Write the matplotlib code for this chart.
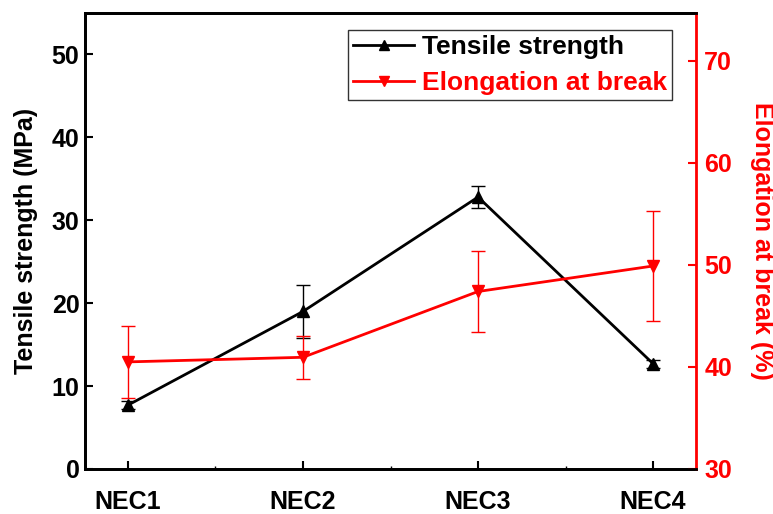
import matplotlib
matplotlib.use("Agg")
import matplotlib.pyplot as plt
from matplotlib.lines import Line2D
import numpy as np

plt.rcParams['font.family'] = ['Liberation Sans', 'DejaVu Sans']
plt.rcParams['font.weight'] = 'bold'

categories = ["NEC1", "NEC2", "NEC3", "NEC4"]
tensile = [7.7, 19.0, 32.8, 12.7]
tensile_err = [0.5, 3.2, 1.3, 0.5]
elong = [40.5, 40.95, 47.4, 49.9]
elong_err = [3.5, 2.1, 4.0, 5.4]

fig = plt.figure(figsize=(7.73, 5.14), dpi=100)
ax = fig.add_axes([85/773, 45/514, (696-85)/773, (469-13)/514])
ax2 = ax.twinx()

x = np.arange(len(categories))

ax.errorbar(x, tensile, yerr=tensile_err, color='black', marker='^', markersize=9,
            linewidth=2, elinewidth=1, capsize=5, capthick=1)
ax2.errorbar(x, elong, yerr=elong_err, color='red', marker='v', markersize=9,
             linewidth=2, elinewidth=1, capsize=5, capthick=1)

ax.set_xlim(-0.245, 3.245)
ax.set_ylim(0, 55)
ax2.set_ylim(30, 74.7)
ax.set_yticks([0, 10, 20, 30, 40, 50])
ax2.set_yticks([30, 40, 50, 60, 70])
ax.set_xticks(x)
ax.set_xticklabels(categories)
ax.set_xticks([0.5, 1.5, 2.5], minor=True)
ax.tick_params(axis='x', which='minor', direction='in', length=2, width=1)

ax.tick_params(axis='both', which='major', direction='in', length=6, width=1.5, labelsize=18)
ax.tick_params(axis='x', which='major', pad=15)
ax.tick_params(axis='y', which='major', pad=4)
ax2.tick_params(axis='y', direction='in', length=6, width=1.5, labelsize=18,
                colors='red', pad=6)
for t in ax.get_xticklabels() + ax.get_yticklabels() + ax2.get_yticklabels():
    t.set_fontweight('bold')

for s in ['left', 'bottom', 'top']:
    ax.spines[s].set_linewidth(2)
    ax2.spines[s].set_linewidth(2)
ax2.spines['right'].set_color('red')
ax2.spines['right'].set_linewidth(2)
ax.spines['right'].set_visible(False)

ax.set_ylabel('Tensile strength (MPa)', fontsize=18, fontweight='bold', labelpad=10)
ax2.set_ylabel('Elongation at break (%)', fontsize=18, fontweight='bold', color='red',
               rotation=270, labelpad=30)

h1 = Line2D([], [], color='black', marker='^', markersize=7, linewidth=2)
h2 = Line2D([], [], color='red', marker='v', markersize=7, linewidth=2)
leg = ax2.legend([h1, h2], ['Tensile strength', 'Elongation at break'],
                 loc='upper right', bbox_to_anchor=(0.9615, 0.963), fontsize=19,
                 frameon=True, fancybox=False, edgecolor='black',
                 handlelength=2.3, borderpad=0.2, labelspacing=0.45,
                 handletextpad=0.3, borderaxespad=0)
leg.get_frame().set_linewidth(1)
for txt, c in zip(leg.get_texts(), ['black', 'red']):
    txt.set_color(c)
    txt.set_fontweight('bold')

fig.savefig('out.png', dpi=100)
